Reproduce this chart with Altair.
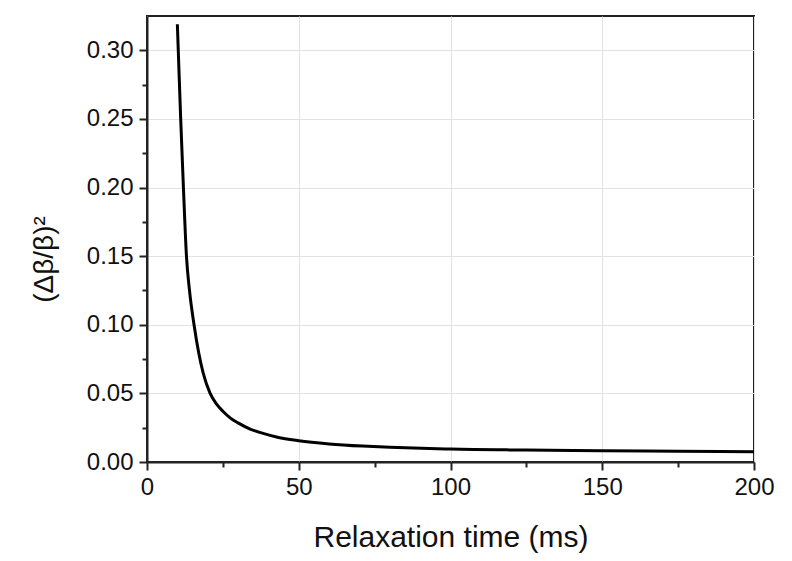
import altair as alt
import pandas as pd

# Data
t_ms = [10, 10.3, 11.1, 12.0, 13.0, 14.0, 15.5, 17.0, 18.5, 20.8, 23.0, 25.0, 27.5, 30.0,
        34.0, 38.0, 43.0, 50.0, 60.0, 71.0, 80.0, 93.0, 100.0, 125.0, 150.0, 175.0, 200.0]
ratio = [0.319, 0.300, 0.250, 0.200, 0.150, 0.125, 0.100, 0.080, 0.065, 0.050, 0.042, 0.037,
         0.032, 0.0285, 0.024, 0.021, 0.018, 0.0155, 0.0132, 0.0116, 0.0107, 0.0098, 0.0094,
         0.0087, 0.0082, 0.0078, 0.0075]

x_major = [0, 50, 100, 150, 200]
x_minor = [25, 75, 125, 175]
y_major = [0.00, 0.05, 0.10, 0.15, 0.20, 0.25, 0.30]
y_minor = [0.025, 0.075, 0.125, 0.175, 0.225, 0.275]

df = pd.DataFrame({"t": t_ms, "r": ratio})

FONT = "Liberation Sans"
AX = "#222222"

xscale = alt.Scale(domain=[0, 200], nice=False, zero=False)
yscale = alt.Scale(domain=[0, 0.325], nice=False, zero=False)

main = alt.Chart(df).mark_line(color="black", strokeWidth=3, interpolate="monotone").encode(
    x=alt.X("t:Q", scale=xscale,
            axis=alt.Axis(values=x_major, title="Relaxation time (ms)", orient="bottom",
                          grid=True, gridColor="#e2e2e2", gridWidth=1,
                          tickSize=8, tickWidth=2, tickColor=AX,
                          domainColor=AX, domainWidth=2, labelFlush=False,
                          labelFont=FONT, labelFontSize=24, labelColor="#111", labelPadding=5,
                          titleFont=FONT, titleFontSize=30, titleFontWeight="normal",
                          titleColor="#111", titleBaseline="alphabetic", titleY=84)),
    y=alt.Y("r:Q", scale=yscale,
            axis=alt.Axis(values=y_major, format=".2f", title="(Δβ/β)²", orient="left",
                          grid=True, gridColor="#e2e2e2", gridWidth=1,
                          tickSize=8, tickWidth=2, tickColor=AX,
                          domainColor=AX, domainWidth=2, labelFlush=False,
                          labelFont=FONT, labelFontSize=24, labelColor="#111", labelPadding=6,
                          titleFont=FONT, titleFontSize=28, titleFontWeight="normal",
                          titleColor="#111", titleBaseline="alphabetic",
                          titleAngle=270, titleX=-95, titleY=243, titleAlign="center")),
)

minor = alt.Chart(df).mark_point(opacity=0).encode(
    x=alt.X("t:Q", scale=xscale,
            axis=alt.Axis(values=x_minor, orient="bottom", labels=False, grid=False,
                          domain=False, tickSize=5, tickWidth=2, tickColor=AX, title=None)),
    y=alt.Y("r:Q", scale=yscale,
            axis=alt.Axis(values=y_minor, orient="left", labels=False, grid=False,
                          domain=False, tickSize=5, tickWidth=2, tickColor=AX, title=None)),
)

chart = alt.layer(main, minor).resolve_axis(x="independent", y="independent").properties(
    width=607, height=446,
    autosize=alt.AutoSizeParams(type="none"),
    padding={"left": 147, "top": 16, "right": 38, "bottom": 99},
    background="white",
).configure_view(stroke=AX, strokeWidth=2)

chart.save("out.html", embed_options={"renderer": "svg", "actions": False})
